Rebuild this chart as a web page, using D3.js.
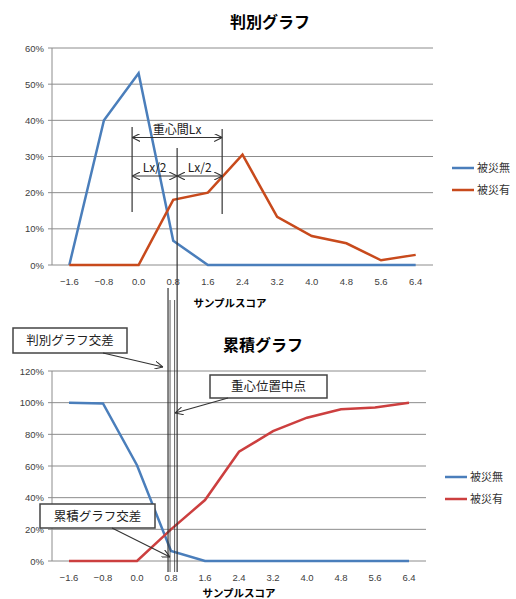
<!DOCTYPE html>
<html>
<head>
<meta charset="utf-8">
<script src="https://cdn.jsdelivr.net/npm/d3@7"></script>
<style>
  body { margin: 0; background: #fff; }
  svg { display: block; font-family: "Noto Sans CJK JP", "Liberation Sans", sans-serif; }
</style>
</head>
<body>
<svg id="chart" width="516" height="599"></svg>
<script>
const scores = [-1.6, -0.8, 0.0, 0.8, 1.6, 2.4, 3.2, 4.0, 4.8, 5.6, 6.4];
const seriesNames = ["被災無", "被災有"];
const noDamageFreq = [0, 40, 53, 6.7, 0, 0, 0, 0, 0, 0, 0];
const damageFreq = [0, 0, 0, 18, 20, 30.5, 13.3, 8, 6, 1.3, 2.8];
const noDamageCum = [100, 99.5, 60.5, 6.3, 0, 0, 0, 0, 0, 0, 0];
const damageCum = [0, 0, 0, 20, 38.5, 69, 82, 90.5, 95.8, 97, 100];
const freqTicks = [0, 10, 20, 30, 40, 50, 60];
const cumTicks = [0, 20, 40, 60, 80, 100, 120];

// annotation positions (score units)
const centroidNo = -0.15;
const centroidYes = 1.93;
const centroidMid = 0.89;
const freqCross = 0.68;

const svg = d3.select("#chart");
const gridColor = "#8c8c8c";
const blue = "#4a7ebb";

// arrow marker (open V)
const defs = svg.append("defs");
defs.append("marker")
    .attr("id", "arr")
    .attr("viewBox", "0 0 10 10")
    .attr("refX", 10).attr("refY", 5)
    .attr("markerWidth", 8).attr("markerHeight", 8)
    .attr("markerUnits", "userSpaceOnUse")
    .attr("orient", "auto-start-reverse")
    .append("path")
    .attr("d", "M0,0 L10,5 L0,10")
    .attr("fill", "none")
    .attr("stroke", "#333")
    .attr("stroke-width", 1.3);

function drawChart(opt) {
    const x = d3.scalePoint().domain(scores).range([opt.left, opt.right]).padding(0.5);
    const y = d3.scaleLinear().domain([0, opt.max]).range([opt.bottom, opt.top]);
    const g = svg.append("g");

    // grid + y labels
    g.selectAll(".grid").data(opt.ticks).join("line")
        .attr("x1", opt.left - 4).attr("x2", opt.right)
        .attr("y1", d => y(d)).attr("y2", d => y(d))
        .attr("stroke", gridColor).attr("stroke-width", 1);
    g.append("line")
        .attr("x1", opt.left).attr("x2", opt.left)
        .attr("y1", opt.top).attr("y2", opt.bottom)
        .attr("stroke", gridColor);
    g.selectAll(".ylab").data(opt.ticks).join("text")
        .attr("x", opt.left - 8).attr("y", d => y(d) + 3.5)
        .attr("text-anchor", "end")
        .attr("font-size", 9.5).attr("fill", "#404040")
        .attr("font-family", "Liberation Sans, sans-serif")
        .text(d => d + "%");

    // x labels
    g.selectAll(".xlab").data(scores).join("text")
        .attr("x", d => x(d)).attr("y", opt.bottom + 20)
        .attr("text-anchor", "middle")
        .attr("font-size", 9.5).attr("fill", "#404040")
        .attr("font-family", "Liberation Sans, sans-serif")
        .text(d => d3.format(".1f")(d));

    g.append("text")
        .attr("x", opt.xTitleX).attr("y", opt.bottom + opt.xTitleDy)
        .attr("text-anchor", "middle")
        .attr("font-size", 10.5).attr("font-weight", "bold")
        .text("サンプルスコア");

    g.append("text")
        .attr("x", opt.titleX).attr("y", opt.titleY)
        .attr("text-anchor", "middle")
        .attr("font-size", 16).attr("font-weight", "bold")
        .text(opt.title);

    const line = d3.line().x((d, i) => x(scores[i])).y(d => y(d));
    opt.series.forEach((s, i) => {
        g.append("path")
            .datum(s)
            .attr("fill", "none")
            .attr("stroke", opt.colors[i])
            .attr("stroke-width", 2.5)
            .attr("stroke-linejoin", "miter")
            .attr("d", line);
        g.append("line")
            .attr("x1", opt.legX).attr("x2", opt.legX + 22)
            .attr("y1", opt.legY + i * 22).attr("y2", opt.legY + i * 22)
            .attr("stroke", opt.colors[i]).attr("stroke-width", 2.5);
        g.append("text")
            .attr("x", opt.legX + 25).attr("y", opt.legY + i * 22 + 4)
            .attr("font-size", 11).attr("fill", "#333")
            .text(seriesNames[i]);
    });
    return x;
}

const xTop = drawChart({
    left: 52, right: 433, top: 48, bottom: 265, max: 60, ticks: freqTicks,
    series: [noDamageFreq, damageFreq], colors: [blue, "#c84a1c"],
    title: "判別グラフ", titleX: 270, titleY: 28,
    xTitleX: 230, xTitleDy: 42,
    legX: 452, legY: 168
});

drawChart({
    left: 52, right: 426, top: 371, bottom: 561, max: 120, ticks: cumTicks,
    series: [noDamageCum, damageCum], colors: [blue, "#cc3f3f"],
    title: "累積グラフ", titleX: 263, titleY: 351,
    xTitleX: 239, xTitleDy: 36,
    legX: 445, legY: 477
});

// annotations on top chart
const ann = svg.append("g").attr("stroke", "#333").attr("stroke-width", 1.2);
const xNo = xTop(-1.6) + (centroidNo + 1.6) / 0.8 * xTop.step();
const xYes = xTop(-1.6) + (centroidYes + 1.6) / 0.8 * xTop.step();
const xMid = xTop(-1.6) + (centroidMid + 1.6) / 0.8 * xTop.step();
const xCross = xTop(-1.6) + (freqCross + 1.6) / 0.8 * xTop.step();

ann.append("line").attr("x1", xNo).attr("x2", xNo).attr("y1", 127).attr("y2", 212);
ann.append("line").attr("x1", xYes).attr("x2", xYes).attr("y1", 129).attr("y2", 214);
ann.append("line").attr("x1", xNo).attr("x2", xYes).attr("y1", 137.5).attr("y2", 137.5)
    .attr("marker-start", "url(#arr)").attr("marker-end", "url(#arr)");
ann.append("line").attr("x1", xNo).attr("x2", xMid).attr("y1", 176).attr("y2", 176)
    .attr("marker-start", "url(#arr)").attr("marker-end", "url(#arr)");
ann.append("line").attr("x1", xMid).attr("x2", xYes).attr("y1", 176).attr("y2", 176)
    .attr("marker-start", "url(#arr)").attr("marker-end", "url(#arr)");

// long vertical lines through both charts
ann.append("line").attr("x1", xMid).attr("x2", xMid).attr("y1", 148).attr("y2", 572);
ann.append("line").attr("x1", xCross).attr("x2", xCross).attr("y1", 288).attr("y2", 572);
ann.append("line").attr("x1", xMid - 2.5).attr("x2", xMid - 2.5).attr("y1", 300).attr("y2", 572).attr("stroke-width", 0.8);
ann.append("line").attr("x1", xCross + 2).attr("x2", xCross + 2).attr("y1", 300).attr("y2", 572).attr("stroke-width", 0.8);

const labels = svg.append("g").attr("font-size", 12).attr("fill", "#222");
labels.append("text").attr("x", (xNo + xYes) / 2).attr("y", 134).attr("text-anchor", "middle")
    .text("重心間Lx");
labels.append("text").attr("x", (xNo + xMid) / 2).attr("y", 172).attr("text-anchor", "middle")
    .text("Lx/2");
labels.append("text").attr("x", (xMid + xYes) / 2).attr("y", 172).attr("text-anchor", "middle")
    .text("Lx/2");

// callout boxes
const callouts = [
    { text: "判別グラフ交差", x: 13, y: 328, w: 114, h: 25, from: [103, 353], to: [163, 367] },
    { text: "重心位置中点", x: 210, y: 375, w: 117, h: 23, from: [228, 398], to: [175, 413] },
    { text: "累積グラフ交差", x: 40, y: 504, w: 115, h: 24, from: [112, 528], to: [170, 557] }
];
const cg = svg.append("g");
callouts.forEach(c => {
    cg.append("rect")
        .attr("x", c.x).attr("y", c.y).attr("width", c.w).attr("height", c.h)
        .attr("fill", "#fff").attr("stroke", "#444").attr("stroke-width", 1.5);
    cg.append("text")
        .attr("x", c.x + c.w / 2).attr("y", c.y + c.h / 2 + 4.5)
        .attr("text-anchor", "middle").attr("font-size", 12.5).attr("fill", "#222")
        .text(c.text);
    cg.append("line")
        .attr("x1", c.from[0]).attr("y1", c.from[1])
        .attr("x2", c.to[0]).attr("y2", c.to[1])
        .attr("stroke", "#333").attr("stroke-width", 1.2)
        .attr("marker-end", "url(#arr)");
});
</script>
</body>
</html>
